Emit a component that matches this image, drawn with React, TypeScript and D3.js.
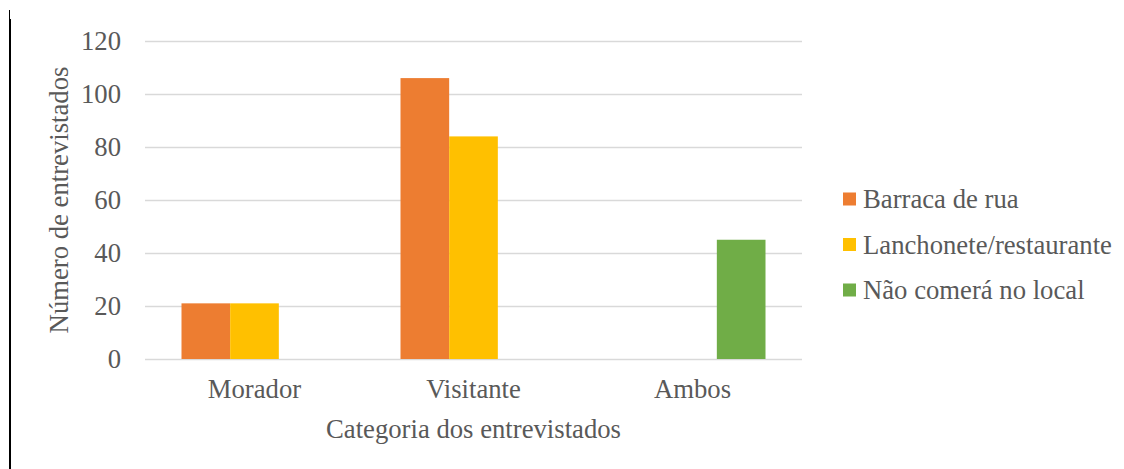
import * as d3 from "d3";
import { useRef, useEffect } from "react";

const categories = ["Morador", "Visitante", "Ambos"];
const seriesNames = ["Barraca de rua", "Lanchonete/restaurante", "Não comerá no local"];
const barracaValues = [21, 106, 0];
const lanchoneteValues = [21, 84, 0];
const naoComeraValues = [0, 0, 45];
const yTicks = [0, 20, 40, 60, 80, 100, 120];
const colours = ["#ED7D31", "#FFC000", "#70AD47"];

export default function App() {
  const chartRef = useRef<SVGSVGElement>(null);
  const width = 1124;
  const height = 469;

  useEffect(() => {
    const svg = d3.select(chartRef.current);
    svg.selectAll("*").remove();

    const margin = { left: 145, right: 322, top: 41, bottom: 110 };
    const font = "'Liberation Serif', 'Times New Roman', serif";
    const textColour = "#595959";
    const fontSize = 26.7;

    const rows = categories.map((c, i) => ({
      name: c,
      values: [barracaValues[i], lanchoneteValues[i], naoComeraValues[i]],
    }));

    const x = d3
      .scaleBand()
      .domain(categories)
      .range([margin.left, width - margin.right])
      .paddingInner(1 / 3)
      .paddingOuter(1 / 6);

    const xInner = d3
      .scaleBand()
      .domain(seriesNames)
      .range([0, x.bandwidth()]);

    const y = d3
      .scaleLinear()
      .domain([0, 120])
      .range([height - margin.bottom, margin.top]);

    // Left border line
    svg.append("rect").attr("x", 9).attr("y", 10).attr("width", 1).attr("height", 459).attr("fill", "#000");
    svg.append("rect").attr("x", 10).attr("y", 19).attr("width", 1).attr("height", 450).attr("fill", "#000");

    // Gridlines
    svg
      .append("g")
      .selectAll("line")
      .data(yTicks)
      .join("line")
      .attr("x1", margin.left)
      .attr("x2", width - margin.right)
      .attr("y1", (d) => Math.round(y(d)) + 0.5)
      .attr("y2", (d) => Math.round(y(d)) + 0.5)
      .attr("stroke", "#D9D9D9")
      .attr("stroke-width", 1.5);

    // Y tick labels
    svg
      .append("g")
      .selectAll("text")
      .data(yTicks)
      .join("text")
      .attr("x", 121)
      .attr("y", (d) => y(d))
      .attr("dy", "0.34em")
      .attr("text-anchor", "end")
      .attr("font-family", font)
      .attr("font-size", fontSize)
      .attr("fill", textColour)
      .text((d) => d);

    // Bars
    const g = svg
      .append("g")
      .selectAll("g")
      .data(rows)
      .join("g")
      .attr("transform", (d) => `translate(${x(d.name)},0)`);

    g.selectAll("rect")
      .data((d) => d.values.map((v, i) => ({ key: seriesNames[i], value: v, i })))
      .join("rect")
      .attr("x", (d) => xInner(d.key)!)
      .attr("y", (d) => y(d.value))
      .attr("width", xInner.bandwidth())
      .attr("height", (d) => y(0) - y(d.value))
      .attr("fill", (d) => colours[d.i]);

    // Category labels
    svg
      .append("g")
      .selectAll("text")
      .data(categories)
      .join("text")
      .attr("x", (d) => x(d)! + x.bandwidth() / 2)
      .attr("y", 398)
      .attr("text-anchor", "middle")
      .attr("font-family", font)
      .attr("font-size", fontSize)
      .attr("fill", textColour)
      .text((d) => d);

    // Axis titles
    svg
      .append("text")
      .attr("x", (margin.left + width - margin.right) / 2)
      .attr("y", 438)
      .attr("text-anchor", "middle")
      .attr("font-family", font)
      .attr("font-size", fontSize)
      .attr("fill", textColour)
      .text("Categoria dos entrevistados");

    svg
      .append("text")
      .attr("transform", `translate(68,${(margin.top + height - margin.bottom) / 2}) rotate(-90)`)
      .attr("text-anchor", "middle")
      .attr("font-family", font)
      .attr("font-size", fontSize)
      .attr("fill", textColour)
      .text("Número de entrevistados");

    // Legend
    const legend = svg
      .append("g")
      .selectAll("g")
      .data(seriesNames)
      .join("g")
      .attr("transform", (d, i) => `translate(843,${199 + i * 45.5})`);

    legend
      .append("rect")
      .attr("x", 0)
      .attr("y", -6.5)
      .attr("width", 13)
      .attr("height", 13)
      .attr("fill", (d, i) => colours[i]);

    legend
      .append("text")
      .attr("x", 20)
      .attr("y", 0)
      .attr("dy", "0.34em")
      .attr("font-family", font)
      .attr("font-size", fontSize)
      .attr("fill", textColour)
      .text((d) => d);
  }, []);

  return (
    <svg
      ref={chartRef}
      width={width}
      height={height}
      style={{ position: "absolute", left: 0, top: 0, background: "#fff" }}
    />
  );
}
